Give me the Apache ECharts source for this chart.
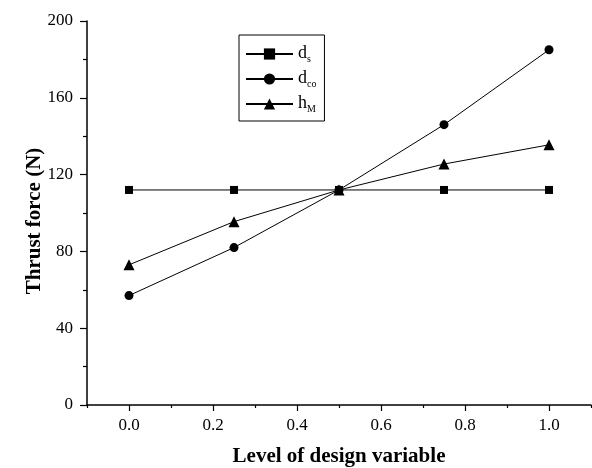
<!DOCTYPE html>
<html>
<head>
<meta charset="utf-8">
<script src="https://cdn.jsdelivr.net/npm/echarts@6/dist/echarts.min.js"></script>
<style>
  html, body { margin: 0; padding: 0; background: #fff; }
  #chart { width: 592px; height: 468px; }
</style>
</head>
<body>
<div id="chart"></div>
<script>
// data
var levels = [0, 0.25, 0.5, 0.75, 1.0];
var ds  = [112, 112, 112, 112, 112];
var dco = [57, 82, 112, 146, 185];
var hM  = [73, 95.5, 112, 125.5, 135.5];

var xMajor = [0, 0.2, 0.4, 0.6, 0.8, 1.0];
var xMinor = [-0.1, 0.1, 0.3, 0.5, 0.7, 0.9, 1.1];

var FONT = 'Liberation Serif';

function pairs(ys) {
  return levels.map(function (x, i) { return [x, ys[i]]; });
}

var legendText = {
  ds: '{m|d}{s|s}',
  dco: '{m|d}{s|co}',
  hM: '{m|h}{s|M}'
};

var chart = echarts.init(document.getElementById('chart'));

var lineSeries = function (name, sym, size, ys) {
  return {
    name: name,
    type: 'line',
    xAxisIndex: 0,
    data: pairs(ys),
    symbol: sym,
    symbolSize: size,
    lineStyle: { color: '#000', width: 1 },
    itemStyle: { color: '#000' },
    animation: false
  };
};

var option = {
  backgroundColor: '#fff',
  grid: { left: 87, right: 1, top: 21, bottom: 63, outerBoundsMode: 'none', containLabel: false },
  legend: {
    orient: 'vertical',
    left: 239,
    top: 35,
    itemWidth: 47,
    itemHeight: 14,
    itemGap: 5,
    padding: [9, 8, 7, 6],
    borderColor: '#000',
    borderWidth: 1,
    formatter: function (n) { return legendText[n]; },
    textStyle: {
      fontFamily: FONT,
      color: '#000',
      rich: {
        m: { fontSize: 18, fontFamily: FONT, color: '#000', lineHeight: 14, verticalAlign: 'top' },
        s: { fontSize: 10, fontFamily: FONT, color: '#000', lineHeight: 20, verticalAlign: 'bottom' }
      }
    },
    data: ['ds', 'dco', 'hM']
  },
  xAxis: [{
    type: 'value',
    min: -0.1,
    max: 1.1,
    name: 'Level of design variable',
    nameLocation: 'middle',
    nameGap: 41,
    nameMoveOverlap: false,
    nameTextStyle: { fontFamily: FONT, fontSize: 21, fontWeight: 'bold', color: '#000' },
    axisLine: { show: true, onZero: false, lineStyle: { color: '#000', width: 1.5 } },
    axisTick: { show: true, customValues: xMajor, length: 6, lineStyle: { color: '#000', width: 1.2 } },
    axisLabel: {
      customValues: xMajor, margin: 12, fontFamily: FONT, fontSize: 17, color: '#000',
      formatter: function (v) { return v.toFixed(1); }
    },
    splitLine: { show: false }
  }, {
    type: 'value',
    min: -0.1,
    max: 1.1,
    position: 'bottom',
    axisLine: { show: false, onZero: false },
    axisTick: { show: true, customValues: xMinor, length: 3, lineStyle: { color: '#000', width: 1.2 } },
    axisLabel: { show: false },
    splitLine: { show: false }
  }],
  yAxis: {
    type: 'value',
    min: 0,
    max: 200,
    interval: 40,
    name: 'Thrust force (N)',
    nameLocation: 'middle',
    nameGap: 42,
    nameMoveOverlap: false,
    nameTextStyle: { fontFamily: FONT, fontSize: 21, fontWeight: 'bold', color: '#000', padding: [0, 16, 0, 0] },
    axisLine: { show: true, onZero: false, lineStyle: { color: '#000', width: 1.5 } },
    axisTick: { show: true, length: 7, lineStyle: { color: '#000', width: 1.2 } },
    minorTick: { show: true, splitNumber: 2, length: 4, lineStyle: { color: '#000', width: 1.2 } },
    axisLabel: { margin: 14, fontFamily: FONT, fontSize: 17, color: '#000' },
    splitLine: { show: false }
  },
  series: [
    lineSeries('ds', 'rect', 8, ds),
    lineSeries('dco', 'circle', 9, dco),
    lineSeries('hM', 'triangle', 11, hM)
  ]
};

chart.setOption(option);
</script>
</body>
</html>
